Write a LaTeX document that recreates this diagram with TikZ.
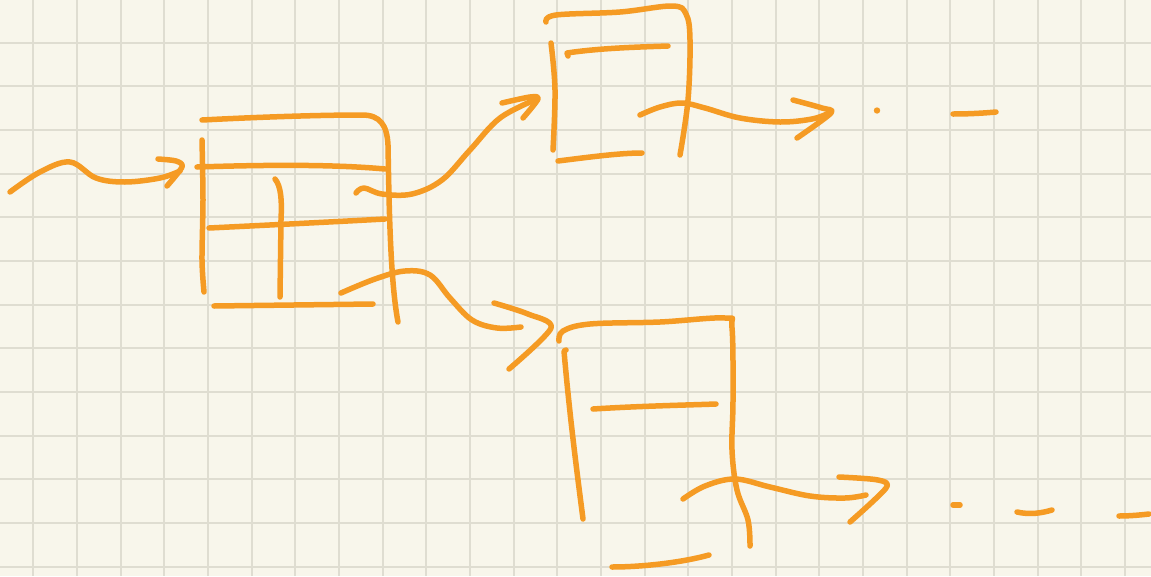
\documentclass[tikz,border=0pt]{standalone}
\usetikzlibrary{calc}
\definecolor{paper}{HTML}{F8F6EB}
\definecolor{gridc}{HTML}{DFDDD1}
\definecolor{ink}{HTML}{F59B24}
\tikzset{
  pen/.style={draw=ink, line width=5.5pt, line cap=round, line join=round},
  gridline/.style={draw=gridc, line width=2pt},
}
\begin{document}
\begin{tikzpicture}[x=1pt,y=-1pt]
\useasboundingbox (0,0) rectangle (1151,576);
\fill[paper] (0,0) rectangle (1151,576);
% grid
\foreach \k in {0,...,25} { \draw[gridline] ({33.3+43.67*\k},0) -- ({33.3+43.67*\k},576); }
\foreach \k in {0,...,12} { \draw[gridline] (0,{42.7+43.67*\k}) -- (1151,{42.7+43.67*\k}); }

% incoming pointer
\draw[pen] plot[smooth, tension=0.6] coordinates {(10,192) (40,172) (70,162) (96,178) (125,182) (160,178) (180,171)};
\draw[pen] plot[smooth, tension=0.5] coordinates {(158,159) (176,161) (182,167) (167,186)};

% big box
\draw[pen] (202,120) .. controls (260,117) and (320,115) .. (362,115) .. controls (380,115) and (387,125) .. (388,145)
  .. controls (389,200) and (390,280) .. (398,322);
\draw[pen] plot[smooth] coordinates {(202,140) (203,200) (202,260) (204,292)};
\draw[pen] (197,167) .. controls (260,165) and (330,164) .. (385,169);
\draw[pen] (209,228) .. controls (270,225) and (330,222) .. (385,219);
\draw[pen] (275,179) .. controls (281,186) and (282,200) .. (281,220) -- (280,297);
\draw[pen] (214,306) -- (373,304);

% pointer to box 2
\draw[pen] plot[smooth, tension=0.6] coordinates {(356,193) (364,188) (382,194) (412,194) (442,180) (470,150) (500,118) (537,99)};
\draw[pen] plot[smooth, tension=0.5] coordinates {(502,103) (530,97) (538,99) (523,118)};

% pointer to box 3
\draw[pen] plot[smooth, tension=0.6] coordinates {(341,293) (375,279) (405,271) (430,275) (450,298) (472,320) (497,328) (521,327)};
\draw[pen] plot[smooth, tension=0.5] coordinates {(494,303) (528,314) (551,328) (509,369)};

% box 2
\draw[pen] plot[smooth, tension=0.6] coordinates {(546,22) (556,15) (620,12) (672,6) (686,14) (690,40) (688,100) (680,155)};
\draw[pen] plot[smooth, tension=0.6] coordinates {(551,43) (555,90) (553,150)};
\draw[pen] (568,56) -- (567,53) .. controls (600,48) and (640,47) .. (668,46);
\draw[pen] (558,161) .. controls (590,157) and (620,153) .. (642,153);
\draw[pen] plot[smooth, tension=0.6] coordinates {(640,115) (660,107) (682,103) (705,108) (740,118) (780,122) (812,119) (829,113)};
\draw[pen] plot[smooth, tension=0.5] coordinates {(793,100) (822,108) (831,113) (797,138)};
\fill[ink] (877,110.5) circle (3.2pt);
\draw[pen] (953,114) .. controls (970,114) and (985,113) .. (996,112);

% box 3
\draw[pen] plot[smooth, tension=0.6] coordinates {(559,341) (563,331) (590,324) (660,322) (725,318) (732,328) (733,400) (732,450) (737,490) (748,520) (750,546)};
\draw[pen] (566,350) -- (564,351) .. controls (570,420) and (578,480) .. (583,519);
\draw[pen] (593,409) .. controls (640,406) and (690,405) .. (716,404);
\draw[pen] (612,567) .. controls (640,567) and (680,563) .. (709,555);
\draw[pen] plot[smooth, tension=0.6] coordinates {(683,499) (705,486) (735,479) (770,487) (810,496) (845,498) (866,495)};
\draw[pen] plot[smooth, tension=0.5] coordinates {(839,477) (878,480) (886,488) (850,522)};
\draw[pen] (953,505) -- (960,505);
\draw[pen] (1017,512) .. controls (1030,515) and (1042,513) .. (1052,510);
\draw[pen] (1119,516) .. controls (1130,516) and (1140,515) .. (1149,514);
\end{tikzpicture}
\end{document}
